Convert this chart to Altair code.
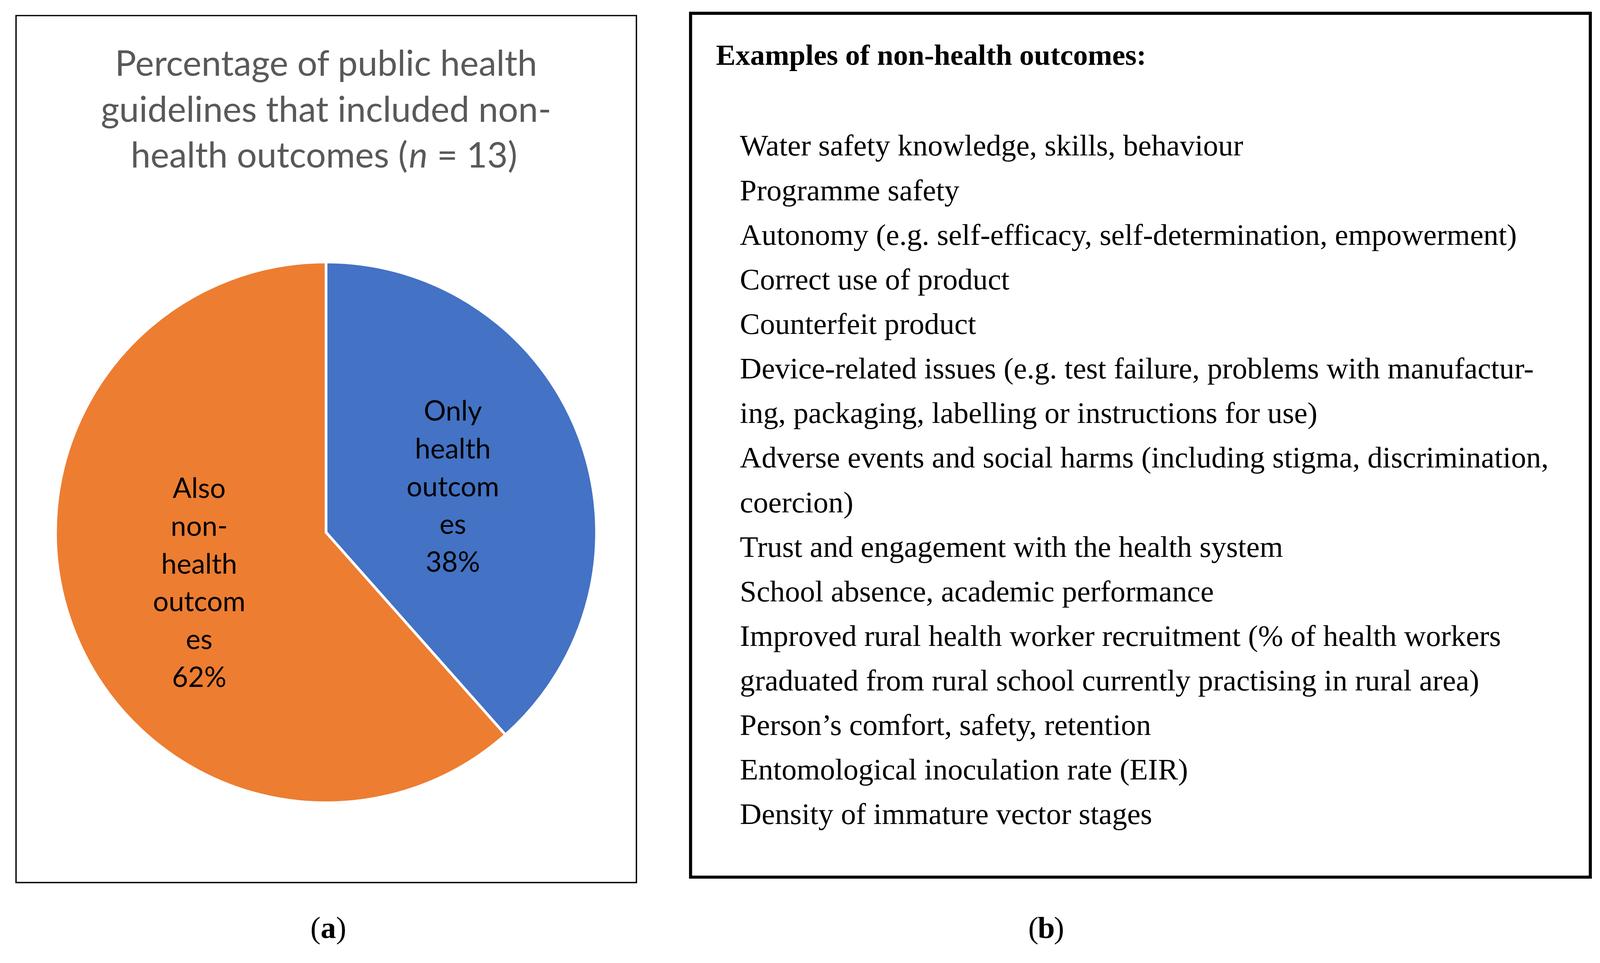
import altair as alt
import pandas as pd

# ---- data ----
categories = ["Only health outcomes", "Also non-health outcomes"]
counts = [5, 8]
slice_labels = ["Only\nhealth\noutcom\nes", "Also\nnon-\nhealth\noutcom\nes"]
slice_colors = ["#4472C4", "#ED7D31"]

title_lines = ["Percentage of public health", "guidelines that included non-"]
title_line3 = ["health outcomes (", "n", "= 13)"]

heading = "Examples of non-health outcomes:"
example_lines = [
    "Water safety knowledge, skills, behaviour",
    "Programme safety",
    "Autonomy (e.g. self-efficacy, self-determination, empowerment)",
    "Correct use of product",
    "Counterfeit product",
    "Device-related issues (e.g. test failure, problems with manufactur-",
    "ing, packaging, labelling or instructions for use)",
    "Adverse events and social harms (including stigma, discrimination,",
    "coercion)",
    "Trust and engagement with the health system",
    "School absence, academic performance",
    "Improved rural health worker recruitment (% of health workers",
    "graduated from rural school currently practising in rural area)",
    "Person\u2019s comfort, safety, retention",
    "Entomological inoculation rate (EIR)",
    "Density of immature vector stages",
]
panel_letters = ["a", "b"]

total = sum(counts)
pie_df = pd.DataFrame({
    "category": categories,
    "count": counts,
    "ord": list(range(len(categories))),
    "label": [f"{t}\n{round(c / total * 100)}%" for t, c in zip(slice_labels, counts)],
    "nlines": [t.count("\n") + 2 for t in slice_labels],
})

SANS = "Lato"
SERIF = "Liberation Serif"
OY = -18  # vertical offset correction
CX, CY, R = 838, 1375 + OY, 702
LAB_LH = 98

one = pd.DataFrame({"k": [0]})

def box(x1, y1, x2, y2, sw):
    return alt.Chart(one).mark_rect(fill="white", stroke="black", strokeWidth=sw).encode(
        x=alt.value(x1), x2=alt.value(x2), y=alt.value(y1 + OY), y2=alt.value(y2 + OY))

box_a = box(33.5, 33.5, 1643.5, 2284, 3.5)
box_b = box(1784, 27.5, 4119, 2270, 8)

base_pie = alt.Chart(pie_df).encode(
    theta=alt.Theta("count:Q", stack=True),
    order=alt.Order("ord:Q"),
    x=alt.value(CX), y=alt.value(CY),
)
arcs = base_pie.mark_arc(radius=R, stroke="white", strokeWidth=7).encode(
    color=alt.Color("category:N", scale=alt.Scale(domain=categories, range=slice_colors), legend=None)
)

arc_texts = []
for i in range(len(categories)):
    n = pie_df["nlines"][i]
    arc_texts.append(
        base_pie.transform_calculate(show=f"datum.ord == {i} ? datum.label : ''")
        .mark_text(radius=352, font=SANS, fontSize=72, lineHeight=LAB_LH, lineBreak="\n",
                   color="black", align="center", baseline="middle",
                   dy=-(n - 1) / 2 * LAB_LH + 9)
        .encode(text="show:N")
    )

TFS = 92
title_df = pd.DataFrame({"t": ["\n".join(title_lines)]})
title12 = alt.Chart(title_df).mark_text(font=SANS, fontSize=TFS, lineHeight=119, lineBreak="\n",
                                        color="#595959", align="center", baseline="alphabetic").encode(
    text="t:N", x=alt.value(CX), y=alt.value(190 + OY))

t3 = pd.DataFrame({"t": title_line3})
def t3piece(i, x, align, style):
    return alt.Chart(t3.iloc[[i]]).mark_text(font=SANS, fontSize=TFS, color="#595959", align=align,
                                             baseline="alphabetic", fontStyle=style).encode(
        text="t:N", x=alt.value(x), y=alt.value(428 + OY))
title3 = [t3piece(0, 1050, "right", "normal"), t3piece(1, 1053, "left", "italic"),
          t3piece(2, 1126, "left", "normal")]

head_df = pd.DataFrame({"t": [heading]})
head = alt.Chart(head_df).mark_text(font=SERIF, fontSize=76, fontWeight="bold", color="black",
                                    align="left", baseline="alphabetic").encode(
    text="t:N", x=alt.value(1850), y=alt.value(161 + OY))

ex_df = pd.DataFrame({"t": ["\n".join(example_lines)]})
examples = alt.Chart(ex_df).mark_text(font=SERIF, fontSize=78, lineHeight=115.7, lineBreak="\n",
                                      color="black", align="left", baseline="alphabetic").encode(
    text="t:N", x=alt.value(1912), y=alt.value(397 + OY))

letters = []
for letter, cxl in zip(panel_letters, [844, 2707]):
    d = pd.DataFrame({"t": [letter]})
    letters.append(alt.Chart(d).mark_text(font=SERIF, fontSize=80, fontWeight="bold", color="black",
                                          align="center", baseline="alphabetic").encode(
        text="t:N", x=alt.value(cxl), y=alt.value(2428 + OY)))
    for txt, dx, al in [("(", -20, "right"), (")", 20, "left")]:
        dp = pd.DataFrame({"t": [txt]})
        letters.append(alt.Chart(dp).mark_text(font=SERIF, fontSize=80, color="black",
                                               align=al, baseline="alphabetic").encode(
            text="t:N", x=alt.value(cxl + dx), y=alt.value(2428 + OY)))

chart = alt.layer(box_a, box_b, arcs, *arc_texts, title12, *title3, head, examples, *letters).properties(
    width=4136, height=2450, padding=0, autosize="none"
).configure_view(stroke=None)

chart.save("out.html", embed_options={"renderer": "svg", "actions": False})
